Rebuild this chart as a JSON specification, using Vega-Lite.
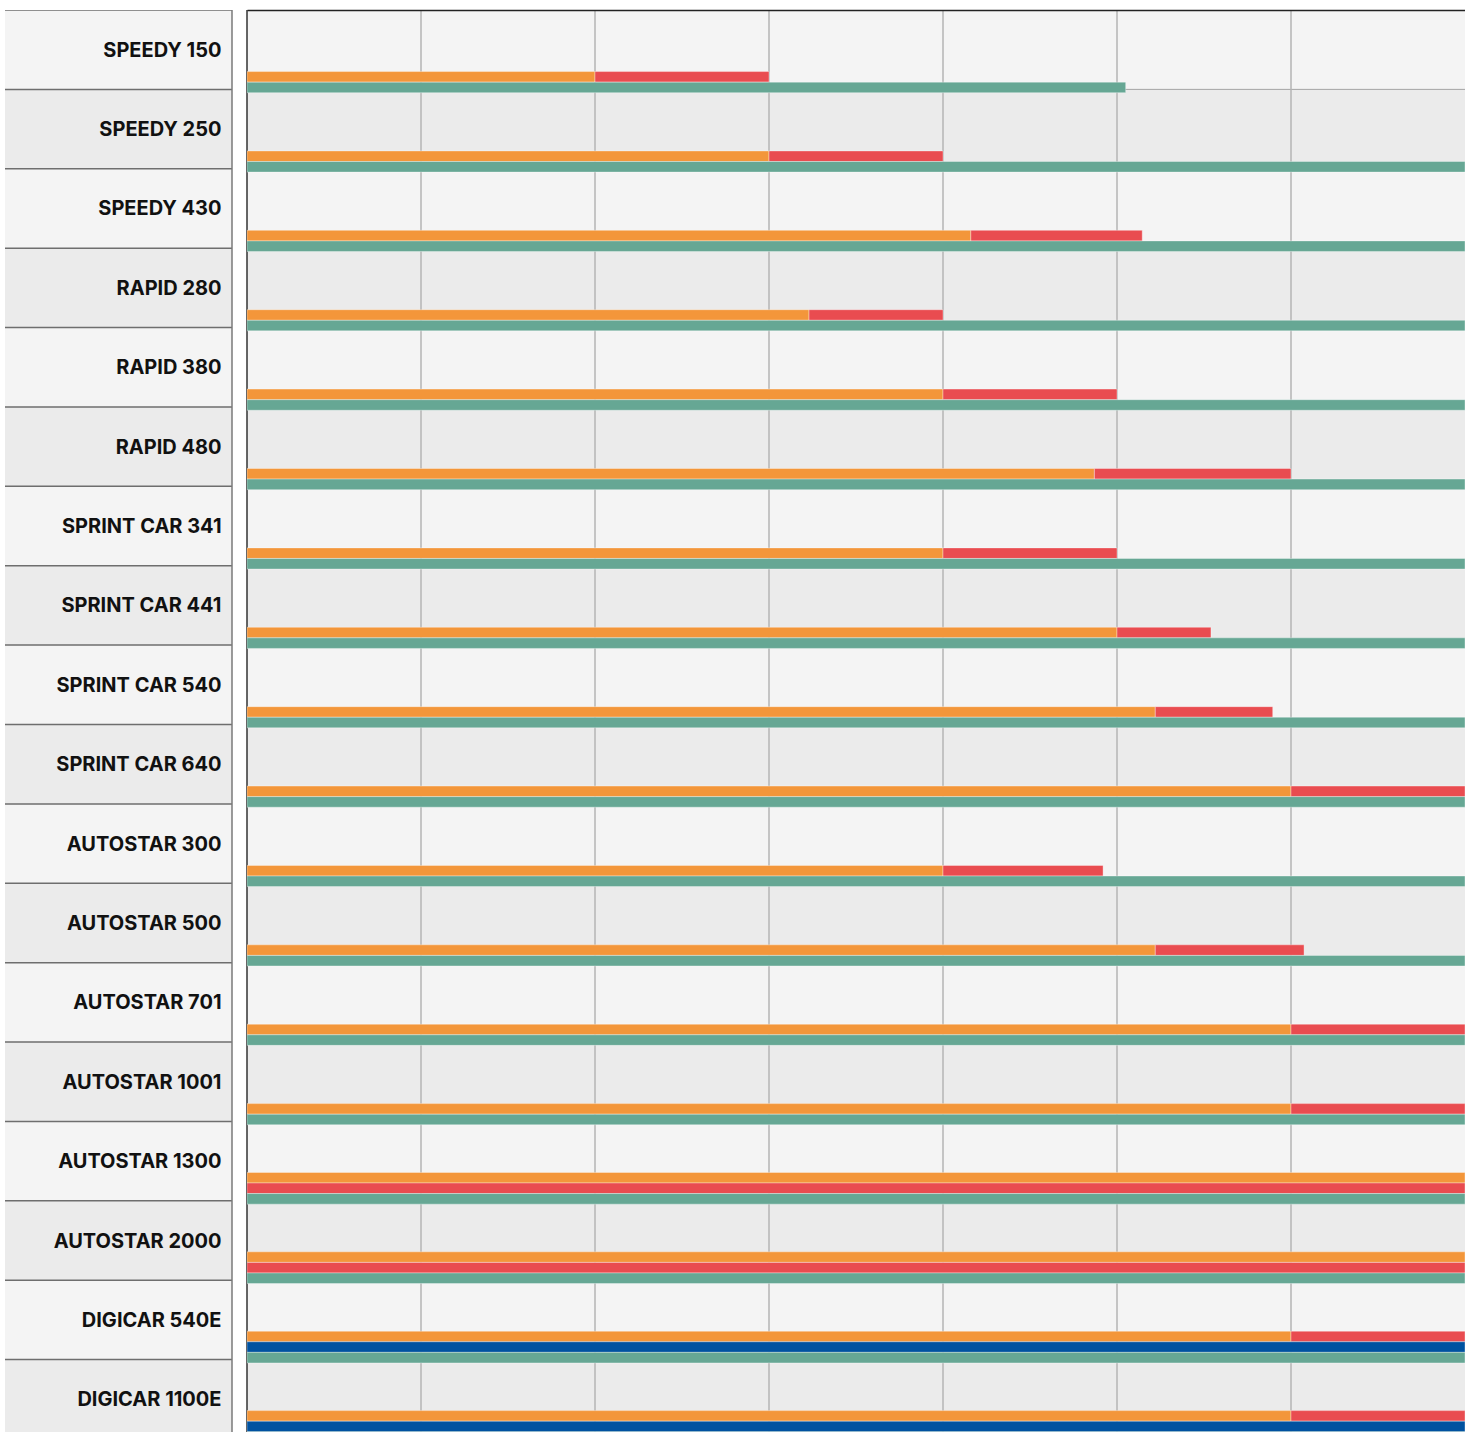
{
  "$schema": "https://vega.github.io/schema/vega-lite/v6.json",
  "background": "white",
  "padding": {"left": 5, "top": 9, "right": 0, "bottom": 0},
  "spacing": 15,
  "bounds": "flush",
  "config": {"view": {"stroke": null}, "axis": {"minExtent": 0}},
  "datasets": {
    "models": [
      {"model": "SPEEDY 150", "shade": "light"},
      {"model": "SPEEDY 250", "shade": "dark"},
      {"model": "SPEEDY 430", "shade": "light"},
      {"model": "RAPID 280", "shade": "dark"},
      {"model": "RAPID 380", "shade": "light"},
      {"model": "RAPID 480", "shade": "dark"},
      {"model": "SPRINT CAR 341", "shade": "light"},
      {"model": "SPRINT CAR 441", "shade": "dark"},
      {"model": "SPRINT CAR 540", "shade": "light"},
      {"model": "SPRINT CAR 640", "shade": "dark"},
      {"model": "AUTOSTAR 300", "shade": "light"},
      {"model": "AUTOSTAR 500", "shade": "dark"},
      {"model": "AUTOSTAR 701", "shade": "light"},
      {"model": "AUTOSTAR 1001", "shade": "dark"},
      {"model": "AUTOSTAR 1300", "shade": "light"},
      {"model": "AUTOSTAR 2000", "shade": "dark"},
      {"model": "DIGICAR 540E", "shade": "light"},
      {"model": "DIGICAR 1100E", "shade": "dark"}
    ],
    "grid": [{"tick": 1}, {"tick": 2}, {"tick": 3}, {"tick": 4}, {"tick": 5}, {"tick": 6}],
    "bars": [
      {"model": "SPEEDY 150", "series": "s1", "lane": "b", "start": 0, "end": 2},
      {"model": "SPEEDY 150", "series": "s2", "lane": "b", "start": 2, "end": 3},
      {"model": "SPEEDY 150", "series": "s4", "lane": "c", "start": 0, "end": 5.05},
      {"model": "SPEEDY 250", "series": "s1", "lane": "b", "start": 0, "end": 3},
      {"model": "SPEEDY 250", "series": "s2", "lane": "b", "start": 3, "end": 4},
      {"model": "SPEEDY 250", "series": "s4", "lane": "c", "start": 0, "end": 7},
      {"model": "SPEEDY 430", "series": "s1", "lane": "b", "start": 0, "end": 4.16},
      {"model": "SPEEDY 430", "series": "s2", "lane": "b", "start": 4.16, "end": 5.145},
      {"model": "SPEEDY 430", "series": "s4", "lane": "c", "start": 0, "end": 7},
      {"model": "RAPID 280", "series": "s1", "lane": "b", "start": 0, "end": 3.23},
      {"model": "RAPID 280", "series": "s2", "lane": "b", "start": 3.23, "end": 4},
      {"model": "RAPID 280", "series": "s4", "lane": "c", "start": 0, "end": 7},
      {"model": "RAPID 380", "series": "s1", "lane": "b", "start": 0, "end": 4},
      {"model": "RAPID 380", "series": "s2", "lane": "b", "start": 4, "end": 5},
      {"model": "RAPID 380", "series": "s4", "lane": "c", "start": 0, "end": 7},
      {"model": "RAPID 480", "series": "s1", "lane": "b", "start": 0, "end": 4.87},
      {"model": "RAPID 480", "series": "s2", "lane": "b", "start": 4.87, "end": 6},
      {"model": "RAPID 480", "series": "s4", "lane": "c", "start": 0, "end": 7},
      {"model": "SPRINT CAR 341", "series": "s1", "lane": "b", "start": 0, "end": 4},
      {"model": "SPRINT CAR 341", "series": "s2", "lane": "b", "start": 4, "end": 5},
      {"model": "SPRINT CAR 341", "series": "s4", "lane": "c", "start": 0, "end": 7},
      {"model": "SPRINT CAR 441", "series": "s1", "lane": "b", "start": 0, "end": 5},
      {"model": "SPRINT CAR 441", "series": "s2", "lane": "b", "start": 5, "end": 5.54},
      {"model": "SPRINT CAR 441", "series": "s4", "lane": "c", "start": 0, "end": 7},
      {"model": "SPRINT CAR 540", "series": "s1", "lane": "b", "start": 0, "end": 5.22},
      {"model": "SPRINT CAR 540", "series": "s2", "lane": "b", "start": 5.22, "end": 5.895},
      {"model": "SPRINT CAR 540", "series": "s4", "lane": "c", "start": 0, "end": 7},
      {"model": "SPRINT CAR 640", "series": "s1", "lane": "b", "start": 0, "end": 6},
      {"model": "SPRINT CAR 640", "series": "s2", "lane": "b", "start": 6, "end": 7},
      {"model": "SPRINT CAR 640", "series": "s4", "lane": "c", "start": 0, "end": 7},
      {"model": "AUTOSTAR 300", "series": "s1", "lane": "b", "start": 0, "end": 4},
      {"model": "AUTOSTAR 300", "series": "s2", "lane": "b", "start": 4, "end": 4.92},
      {"model": "AUTOSTAR 300", "series": "s4", "lane": "c", "start": 0, "end": 7},
      {"model": "AUTOSTAR 500", "series": "s1", "lane": "b", "start": 0, "end": 5.22},
      {"model": "AUTOSTAR 500", "series": "s2", "lane": "b", "start": 5.22, "end": 6.075},
      {"model": "AUTOSTAR 500", "series": "s4", "lane": "c", "start": 0, "end": 7},
      {"model": "AUTOSTAR 701", "series": "s1", "lane": "b", "start": 0, "end": 6},
      {"model": "AUTOSTAR 701", "series": "s2", "lane": "b", "start": 6, "end": 7},
      {"model": "AUTOSTAR 701", "series": "s4", "lane": "c", "start": 0, "end": 7},
      {"model": "AUTOSTAR 1001", "series": "s1", "lane": "b", "start": 0, "end": 6},
      {"model": "AUTOSTAR 1001", "series": "s2", "lane": "b", "start": 6, "end": 7},
      {"model": "AUTOSTAR 1001", "series": "s4", "lane": "c", "start": 0, "end": 7},
      {"model": "AUTOSTAR 1300", "series": "s1", "lane": "a", "start": 0, "end": 7},
      {"model": "AUTOSTAR 1300", "series": "s2", "lane": "b", "start": 0, "end": 7},
      {"model": "AUTOSTAR 1300", "series": "s4", "lane": "c", "start": 0, "end": 7},
      {"model": "AUTOSTAR 2000", "series": "s1", "lane": "a", "start": 0, "end": 7},
      {"model": "AUTOSTAR 2000", "series": "s2", "lane": "b", "start": 0, "end": 7},
      {"model": "AUTOSTAR 2000", "series": "s4", "lane": "c", "start": 0, "end": 7},
      {"model": "DIGICAR 540E", "series": "s1", "lane": "a", "start": 0, "end": 6},
      {"model": "DIGICAR 540E", "series": "s2", "lane": "a", "start": 6, "end": 7},
      {"model": "DIGICAR 540E", "series": "s3", "lane": "b", "start": 0, "end": 7},
      {"model": "DIGICAR 540E", "series": "s4", "lane": "c", "start": 0, "end": 7},
      {"model": "DIGICAR 1100E", "series": "s1", "lane": "a", "start": 0, "end": 6},
      {"model": "DIGICAR 1100E", "series": "s2", "lane": "a", "start": 6, "end": 7},
      {"model": "DIGICAR 1100E", "series": "s3", "lane": "b", "start": 0, "end": 7},
      {"model": "DIGICAR 1100E", "series": "s4", "lane": "c", "start": 0, "end": 7}
    ]
  },
  "hconcat": [
    {
      "width": 227,
      "height": 1423,
      "layer": [
        {
          "data": {"name": "models"},
          "mark": {"type": "rect", "clip": true},
          "encoding": {
            "y": {
              "field": "model", "type": "nominal",
              "scale": {"domain": ["SPEEDY 150", "SPEEDY 250", "SPEEDY 430", "RAPID 280", "RAPID 380", "RAPID 480", "SPRINT CAR 341", "SPRINT CAR 441", "SPRINT CAR 540", "SPRINT CAR 640", "AUTOSTAR 300", "AUTOSTAR 500", "AUTOSTAR 701", "AUTOSTAR 1001", "AUTOSTAR 1300", "AUTOSTAR 2000", "DIGICAR 540E", "DIGICAR 1100E"], "range": [0, 1429], "paddingInner": 0, "paddingOuter": 0},
              "axis": {"orient": "right", "title": null, "domain": false, "ticks": false, "tickSize": 0, "grid": false, "labelPadding": -11, "labelAlign": "right", "labelBaseline": "middle", "labelOffset": 1, "labelFont": "Inter", "labelFontSize": 20, "labelFontWeight": "bold", "labelColor": "#111111", "labelLimit": 0, "zindex": 1, "minExtent": 0}
            },
            "fill": {"field": "shade", "type": "nominal", "scale": {"domain": ["light", "dark"], "range": ["#f4f4f4", "#ebebeb"]}, "legend": null}
          }
        },
        {
          "data": {"name": "models"},
          "mark": {"type": "rule", "clip": true, "color": "#6e6e6e", "strokeWidth": 1.5},
          "encoding": {
            "y": {"field": "model", "type": "nominal", "bandPosition": 0}
          }
        },
        {
          "data": {"values": [{"edge": 1}]},
          "mark": {"type": "rule", "color": "#7a7a7a", "strokeWidth": 1.5},
          "encoding": {
            "x": {"field": "edge", "type": "quantitative", "scale": {"domain": [0, 1]}, "axis": null}
          }
        }
      ]
    },
    {
      "width": 1218,
      "height": 1423,
      "layer": [
        {
          "data": {"name": "models"},
          "mark": {"type": "rect", "clip": true},
          "encoding": {
            "y": {
              "field": "model", "type": "nominal",
              "scale": {"domain": ["SPEEDY 150", "SPEEDY 250", "SPEEDY 430", "RAPID 280", "RAPID 380", "RAPID 480", "SPRINT CAR 341", "SPRINT CAR 441", "SPRINT CAR 540", "SPRINT CAR 640", "AUTOSTAR 300", "AUTOSTAR 500", "AUTOSTAR 701", "AUTOSTAR 1001", "AUTOSTAR 1300", "AUTOSTAR 2000", "DIGICAR 540E", "DIGICAR 1100E"], "range": [0, 1429], "paddingInner": 0, "paddingOuter": 0},
              "axis": null
            },
            "fill": {"field": "shade", "type": "nominal", "scale": {"domain": ["light", "dark"], "range": ["#f4f4f4", "#ebebeb"]}, "legend": null}
          }
        },
        {
          "data": {"name": "models"},
          "mark": {"type": "rule", "clip": true, "color": "#a3a3a3", "strokeWidth": 1},
          "encoding": {
            "y": {"field": "model", "type": "nominal", "bandPosition": 0}
          }
        },
        {
          "data": {"name": "grid"},
          "mark": {"type": "rule", "clip": true, "color": "#b4b4b4", "strokeWidth": 1.5},
          "encoding": {
            "x": {"field": "tick", "type": "quantitative", "title": null}
          }
        },
        {
          "data": {"values": [{"edge": 0}]},
          "mark": {"type": "rule", "color": "#333333", "strokeWidth": 1.5},
          "encoding": {
            "x": {"field": "edge", "type": "quantitative", "title": null}
          }
        },
        {
          "data": {"name": "bars"},
          "mark": {"type": "rect", "clip": true, "stroke": "white", "strokeOpacity": 0.35, "strokeWidth": 1},
          "encoding": {
            "x": {
              "field": "start", "type": "quantitative", "title": null,
              "scale": {"domain": [0, 7], "nice": false, "zero": false},
              "axis": {"orient": "top", "labels": false, "ticks": false, "grid": false, "title": null, "domain": true, "domainColor": "#222222", "domainWidth": 1.5, "zindex": 1, "minExtent": 0}
            },
            "x2": {"field": "end"},
            "y": {"field": "model", "type": "nominal"},
            "yOffset": {"field": "lane", "type": "nominal", "scale": {"domain": ["a", "b", "c"], "range": [51, 82.7], "paddingInner": 0, "paddingOuter": 0}},
            "color": {"field": "series", "type": "nominal", "scale": {"domain": ["s1", "s2", "s3", "s4"], "range": ["#f3963a", "#e94c50", "#0052a0", "#66a794"]}, "legend": null}
          }
        }
      ]
    }
  ]
}
